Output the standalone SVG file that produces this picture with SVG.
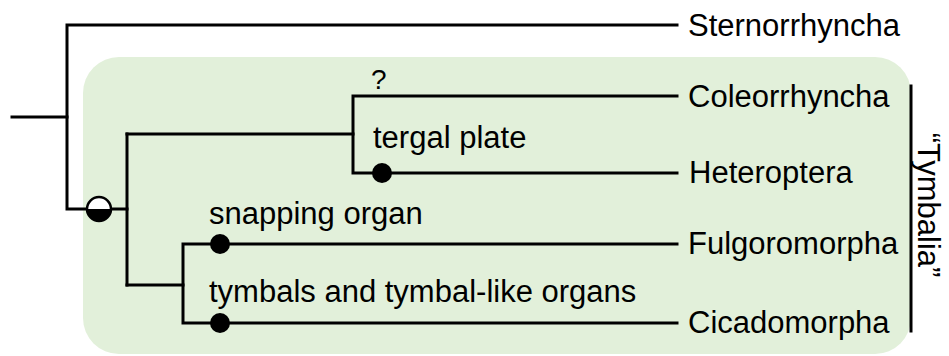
<svg xmlns="http://www.w3.org/2000/svg" width="949" height="356" viewBox="0 0 949 356">
<style>
.br{fill:none;stroke:#000;stroke-width:3;stroke-linecap:square;stroke-linejoin:miter}
.t{font-family:"Liberation Sans",Arial,sans-serif;font-size:31px;fill:#000}
.dot{fill:#000}
</style>
<rect x="83" y="57" width="828" height="297" rx="36" ry="36" fill="#e2f0da"/>
<g id="connectors">
<path class="br" d="M12,117 H67"/>
<path class="br" d="M677,25 H67 V209 H127"/>
<path class="br" d="M127,134 V285"/>
<path class="br" d="M127,134 H353"/>
<path class="br" d="M677,96 H353 V173 H677"/>
<path class="br" d="M127,285 H183"/>
<path class="br" d="M677,244 H183 V323 H677"/>
<path class="br" d="M911,86 V331"/>
</g>
<g id="node-root-char">
<path d="M87,209 A12,12 0 0 1 111,209 Z" fill="#fff"/>
<path d="M87,209 A12,12 0 0 0 111,209 Z" fill="#000"/>
<circle cx="99" cy="209" r="12" fill="none" stroke="#000" stroke-width="2.5"/>
</g>
<g id="node-sternorrhyncha"><text class="t" x="688" y="36">Sternorrhyncha</text></g>
<g id="node-coleorrhyncha"><text class="t" x="688" y="107">Coleorrhyncha</text></g>
<g id="node-heteroptera"><text class="t" x="689" y="183">Heteroptera</text></g>
<g id="node-fulgoromorpha"><text class="t" x="688" y="254">Fulgoromorpha</text></g>
<g id="node-cicadomorpha"><text class="t" x="688" y="333">Cicadomorpha</text></g>
<g id="node-question"><text class="t" x="371" y="89" style="font-size:28px">?</text></g>
<g id="node-tergal"><circle class="dot" cx="382" cy="173" r="10"/><text class="t" x="373" y="148">tergal plate</text></g>
<g id="node-snapping"><circle class="dot" cx="220" cy="244" r="10"/><text class="t" x="209" y="224">snapping organ</text></g>
<g id="node-tymbals"><circle class="dot" cx="220" cy="323" r="10"/><text class="t" x="209" y="302">tymbals and tymbal-like organs</text></g>
<g id="node-tymbalia"><text class="t" transform="translate(918,205) rotate(90)" text-anchor="middle">“Tymbalia”</text></g>
</svg>
